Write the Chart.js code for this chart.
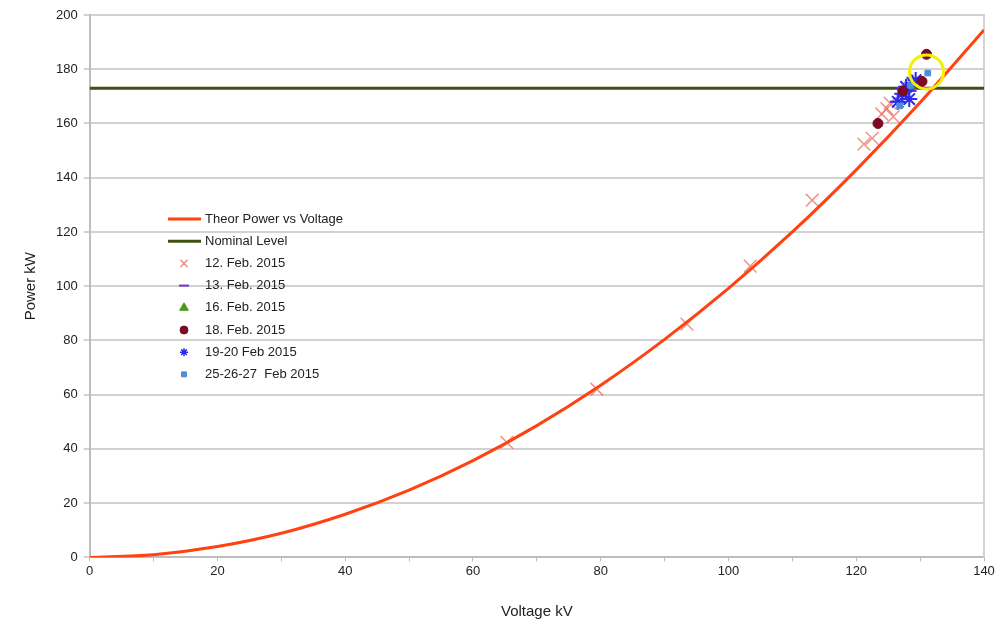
<!DOCTYPE html>
<html>
<head>
<meta charset="utf-8">
<script src="https://cdn.jsdelivr.net/npm/chart.js@4/dist/chart.umd.min.js"></script>
<style>
  body { margin: 0; background: #fff; }
</style>
</head>
<body>
<canvas id="powerChart" width="998" height="623"></canvas>
<script>
// theoretical curve, read every 10 kV
var theorVoltage = [0, 10, 20, 30, 40, 50, 60, 70, 80, 90, 100, 110, 120, 130, 140];
var theorPower = [0, 1, 4, 8.9, 15.9, 24.8, 35.7, 48.6, 63.5, 80.4, 99.2, 120, 142.9, 167.7, 194.5];

var nominalVoltage = [0, 140];
var nominalPower = [173, 173];

// measurements
var feb12Voltage = [65.3, 79.4, 93.5, 103.4, 113.1, 121.2, 122.5, 124.0, 124.8, 125.3, 125.8];
var feb12Power = [42.4, 62, 86, 107.4, 131.7, 152.4, 154.5, 163.5, 165.5, 167.5, 162.5];

var feb13Voltage = [126.5, 127.5, 128.5];
var feb13Power = [168, 170, 172];

var feb16Voltage = [127.2, 128.8];
var feb16Power = [171, 174];

var feb18Voltage = [123.4, 127.3, 130.3, 131.0];
var feb18Power = [160, 172, 175.5, 185.5];

var feb1920Voltage = [126.5, 127.2, 127.8, 128.3, 128.8, 129.3];
var feb1920Power = [168, 171, 173.5, 169, 175, 176];

var feb25Voltage = [126.8, 127.0, 128.5, 131.2];
var feb25Power = [166.5, 172.3, 174, 178.6];

var highlightVoltage = [131];
var highlightPower = [179];

var xTicks = [0, 20, 40, 60, 80, 100, 120, 140];

function toPoints(xs, ys) {
    var pts = [];
    for (var i = 0; i < xs.length; i++) {
        pts.push({ x: xs[i], y: ys[i] });
    }
    return pts;
}

var fontName = "'Liberation Sans', Arial, sans-serif";

// legend drawn inside the plot, like the original
var insideLegend = {
    id: 'insideLegend',
    afterDraw: function (chart) {
        var ctx = chart.ctx;
        var x0 = 168, y0 = 219, step = 22.2;
        var row = 0;
        ctx.save();
        chart.data.datasets.forEach(function (ds) {
            if (ds.noLegend) return;
            var y = y0 + row * step;
            if (ds.showLine) {
                ctx.strokeStyle = ds.borderColor;
                ctx.lineWidth = ds.borderWidth;
                ctx.beginPath();
                ctx.moveTo(x0, y);
                ctx.lineTo(x0 + 33, y);
                ctx.stroke();
            } else {
                ctx.fillStyle = ds.backgroundColor;
                ctx.strokeStyle = ds.borderColor;
                ctx.lineWidth = ds.legendBorder || 1;
                Chart.helpers.drawPoint(ctx, {
                    pointStyle: ds.pointStyle,
                    radius: ds.legendRadius || 4,
                    borderWidth: ds.legendBorder || 1,
                    rotation: 0
                }, x0 + 16, y);
            }
            ctx.fillStyle = '#222';
            ctx.font = '13px ' + fontName;
            ctx.textBaseline = 'middle';
            ctx.fillText(ds.label, x0 + 37, y);
            row++;
        });
        ctx.restore();
    }
};

var myChart = new Chart(document.getElementById('powerChart'), {
    type: 'scatter',
    data: {
        datasets: [{
            label: 'highlight',
            noLegend: true,
            data: toPoints(highlightVoltage, highlightPower),
            pointStyle: 'circle',
            pointRadius: 17,
            backgroundColor: 'rgba(0,0,0,0)',
            borderColor: '#f5f000',
            borderWidth: 3,
            order: 0
        }, {
            label: 'Theor Power vs Voltage',
            data: toPoints(theorVoltage, theorPower),
            showLine: true,
            borderColor: '#ff4210',
            backgroundColor: '#ff4210',
            borderWidth: 3,
            pointRadius: 0,
            cubicInterpolationMode: 'monotone',
            order: 6
        }, {
            label: 'Nominal Level',
            data: toPoints(nominalVoltage, nominalPower),
            showLine: true,
            borderColor: '#3d5212',
            backgroundColor: '#3d5212',
            borderWidth: 3,
            pointRadius: 0,
            order: 7
        }, {
            label: '12. Feb. 2015',
            data: toPoints(feb12Voltage, feb12Power),
            pointStyle: 'crossRot',
            pointRadius: 9,
            borderWidth: 1.5,
            borderColor: 'rgba(235,110,95,0.75)',
            backgroundColor: 'rgba(235,110,95,0.75)',
            legendRadius: 5,
            legendBorder: 1.5,
            order: 8
        }, {
            label: '13. Feb. 2015',
            data: toPoints(feb13Voltage, feb13Power),
            pointStyle: 'line',
            pointRadius: 6,
            borderWidth: 2,
            borderColor: '#7a2fd0',
            backgroundColor: '#7a2fd0',
            legendRadius: 5,
            legendBorder: 2,
            order: 4
        }, {
            label: '16. Feb. 2015',
            data: toPoints(feb16Voltage, feb16Power),
            pointStyle: 'triangle',
            pointRadius: 5,
            borderWidth: 1,
            borderColor: '#4a9a1c',
            backgroundColor: '#4a9a1c',
            legendRadius: 5,
            order: 5
        }, {
            label: '18. Feb. 2015',
            data: toPoints(feb18Voltage, feb18Power),
            pointStyle: 'circle',
            pointRadius: 5,
            borderWidth: 1,
            borderColor: '#7d0a22',
            backgroundColor: '#7d0a22',
            legendRadius: 4,
            order: 1
        }, {
            label: '19-20 Feb 2015',
            data: toPoints(feb1920Voltage, feb1920Power),
            pointStyle: 'star',
            pointRadius: 8,
            borderWidth: 2,
            borderColor: '#2a2af0',
            backgroundColor: '#2a2af0',
            legendRadius: 4,
            legendBorder: 1.5,
            order: 3
        }, {
            label: '25-26-27  Feb 2015',
            data: toPoints(feb25Voltage, feb25Power),
            pointStyle: 'rect',
            pointRadius: 4,
            borderWidth: 1,
            borderColor: '#4a8fd6',
            backgroundColor: '#4a8fd6',
            legendRadius: 3.5,
            order: 2
        }]
    },
    options: {
        responsive: false,
        animation: false,
        layout: {
            autoPadding: false,
            padding: { left: 22, right: 14, top: 15, bottom: 2 }
        },
        plugins: {
            legend: { display: false },
            tooltip: { enabled: false }
        },
        scales: {
            x: {
                type: 'linear',
                min: 0,
                max: 140,
                afterBuildTicks: function (axis) {
                    var t = [];
                    for (var i = 0; i <= 140; i += 10) t.push({ value: i });
                    axis.ticks = t;
                },
                ticks: {
                    color: '#222',
                    font: { family: fontName, size: 13 },
                    padding: 2,
                    maxRotation: 0,
                    autoSkip: false,
                    callback: function (value) {
                        return xTicks.indexOf(value) >= 0 ? value : '';
                    }
                },
                grid: {
                    drawOnChartArea: false,
                    tickLength: 4,
                    color: '#bdbdbd'
                },
                border: { color: '#bdbdbd', width: 2 },
                title: {
                    display: true,
                    text: 'Voltage kV',
                    color: '#222',
                    font: { family: fontName, size: 15 },
                    padding: { top: 22, bottom: 0 }
                }
            },
            y: {
                min: 0,
                max: 200,
                ticks: {
                    stepSize: 20,
                    color: '#222',
                    font: { family: fontName, size: 13 },
                    padding: 6
                },
                grid: {
                    color: '#d2d2d2',
                    lineWidth: 2,
                    tickLength: 6
                },
                border: { color: '#bdbdbd', width: 2 },
                title: {
                    display: true,
                    text: 'Power kW',
                    color: '#222',
                    font: { family: fontName, size: 15 },
                    padding: { top: 0, bottom: 10 }
                }
            },
            yRight: {
                position: 'right',
                min: 0,
                max: 200,
                ticks: { display: false },
                grid: { display: false },
                border: { color: '#d2d2d2', width: 2 },
                afterFit: function (axis) { axis.width = 0; }
            }
        }
    },
    plugins: [insideLegend]
});
</script>
</body>
</html>
